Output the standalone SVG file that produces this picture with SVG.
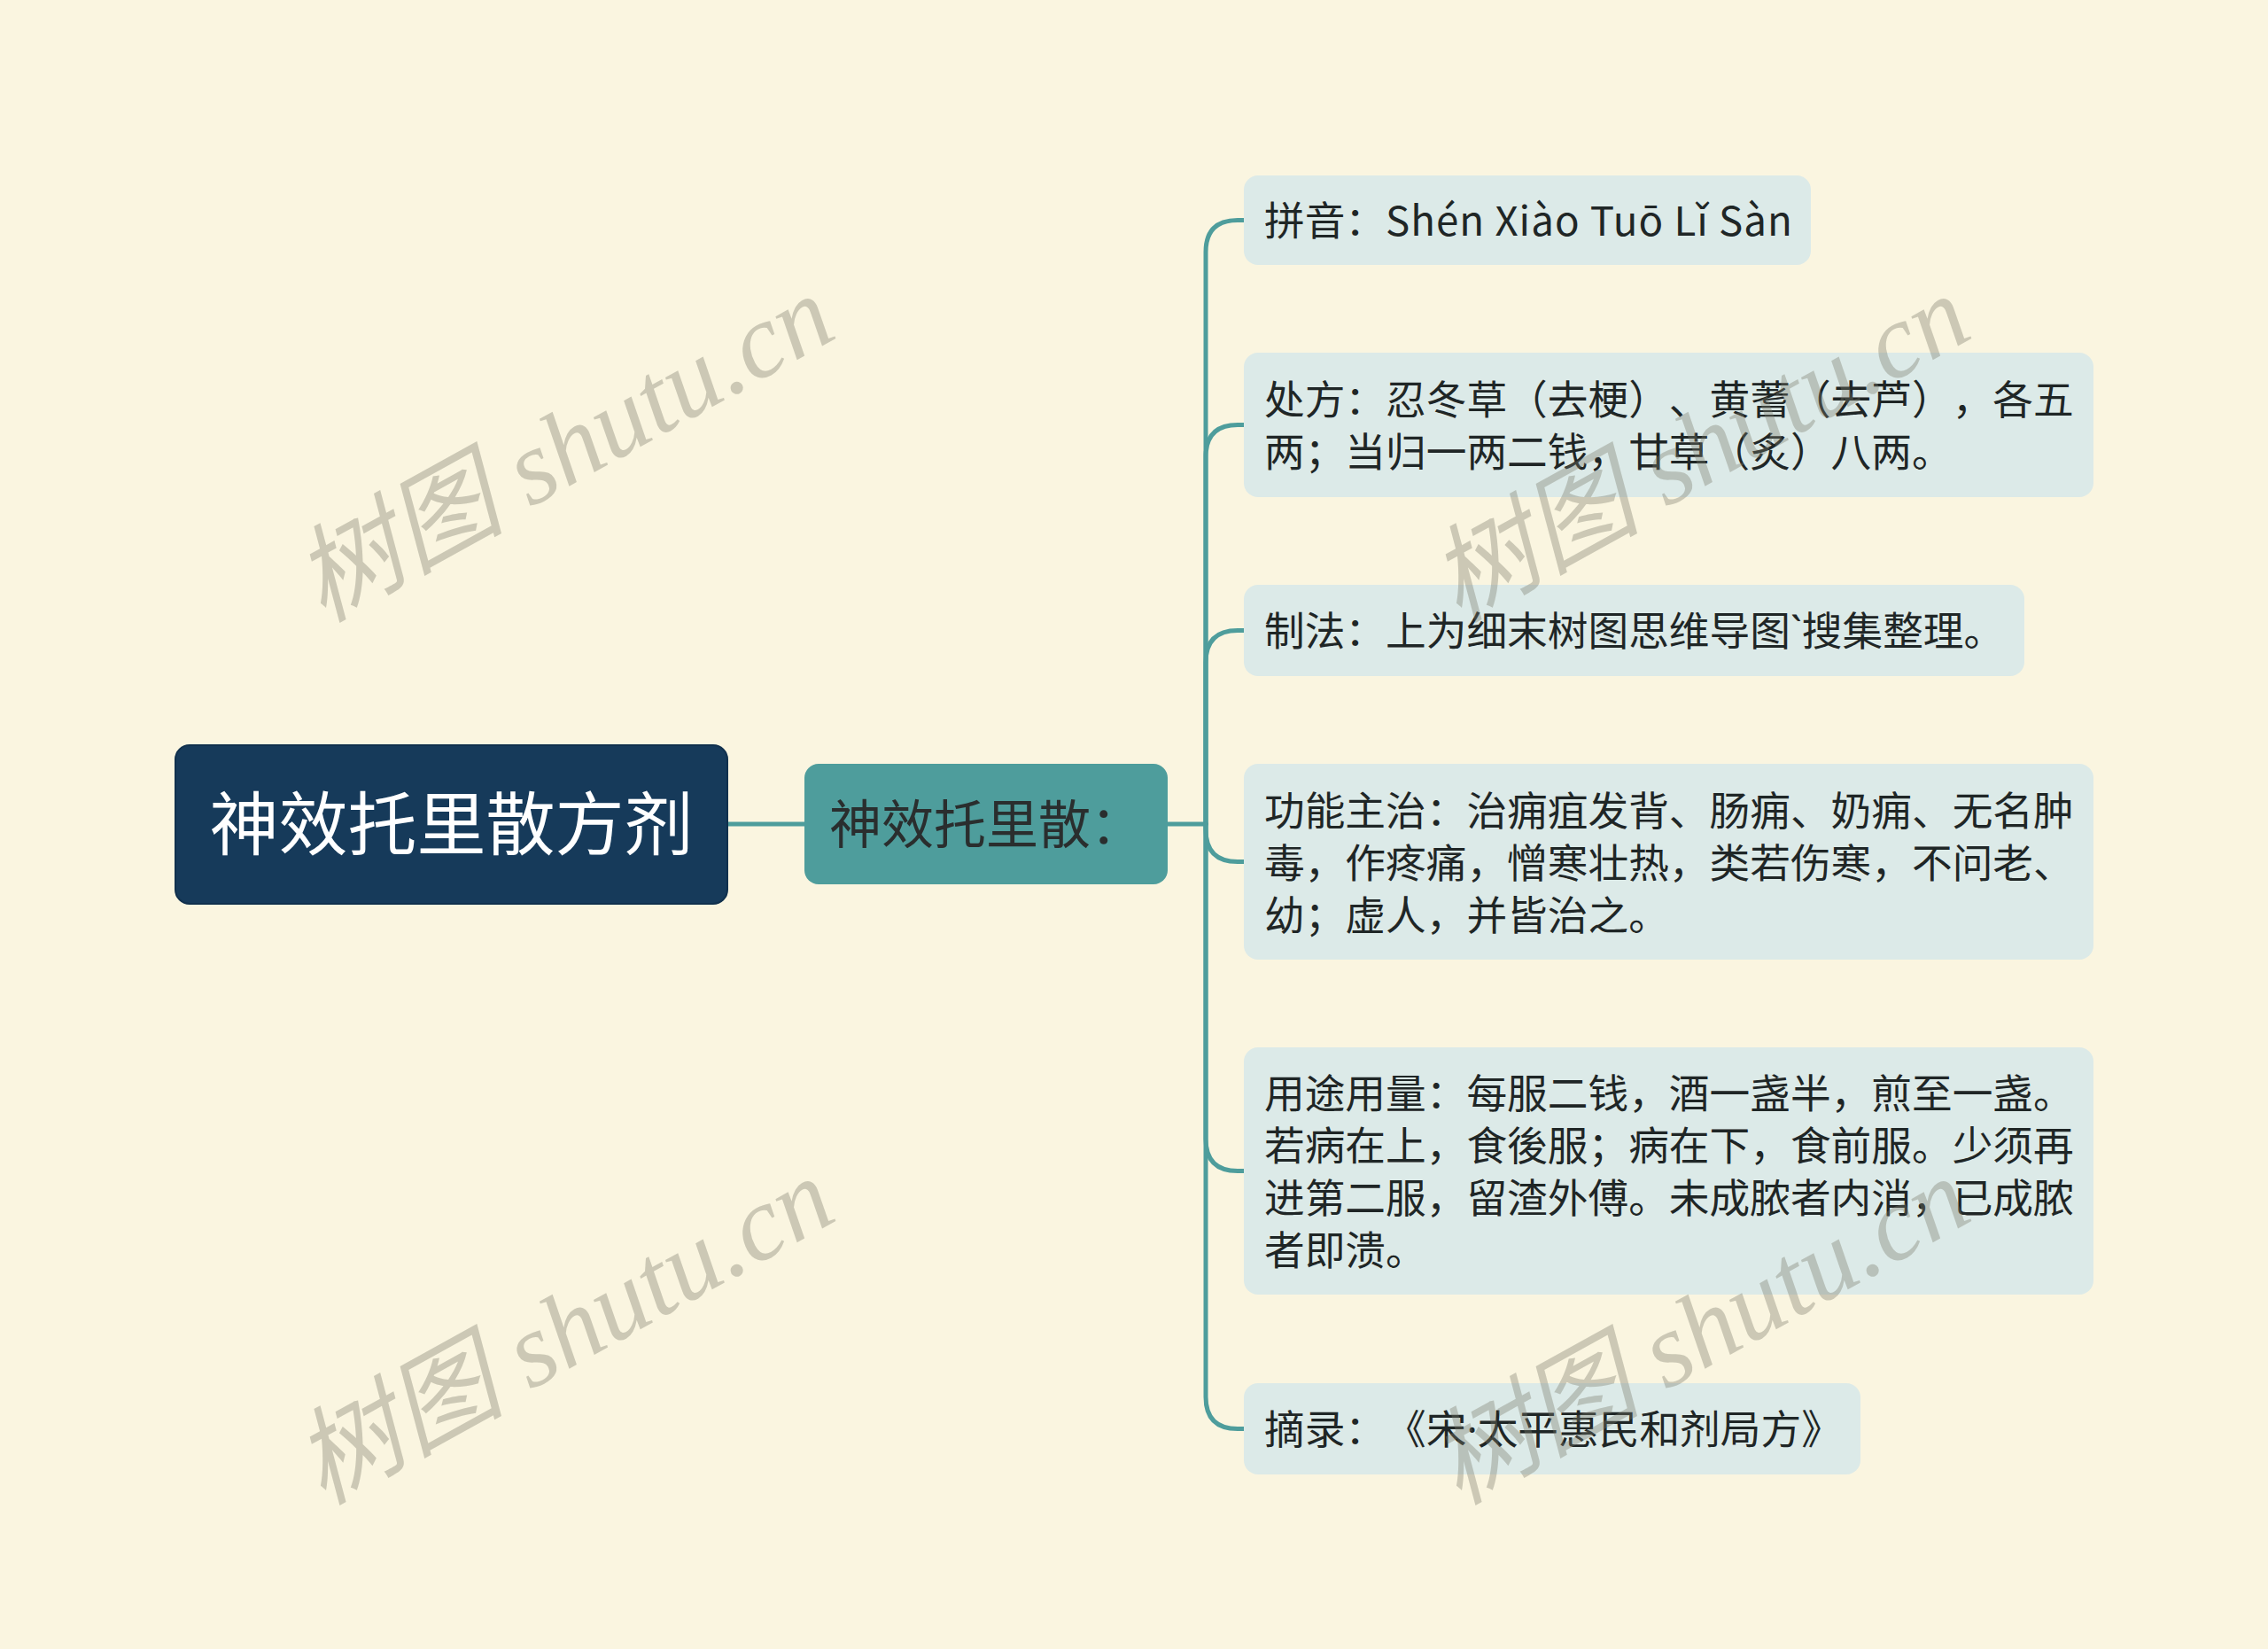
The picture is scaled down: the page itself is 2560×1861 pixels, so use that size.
<svg xmlns="http://www.w3.org/2000/svg" width="2560" height="1861" viewBox="0 0 2560 1861">
<style>
.bg{fill:#FAF5E0}
.conn{fill:none;stroke:#4E9D9C;stroke-width:5;stroke-linecap:round}
.root{fill:#163A5A;stroke:#10304D;stroke-width:2}
.child{fill:#4E9D9C}
.leaf{fill:#DCEAE8}
.t{font-family:"Noto Sans CJK SC","Noto Sans",sans-serif;text-spacing-trim:space-all;font-feature-settings:"chws" 0,"halt" 0}
.lat{font-family:"Noto Sans",sans-serif}
.rt{font-size:78px;fill:#FFFFFF}
.ct{font-size:59px;fill:#2A2E2E}
.lt{font-size:45.7px;fill:#1F2626}
.wm{font-family:"Liberation Serif","Noto Sans CJK SC",serif;font-style:italic;font-size:119px;fill:#7A7A6A;fill-opacity:0.36}
</style>
<rect class="bg" x="0" y="0" width="2560" height="1861"/>
<g id="connectors">
<path class="conn" d="M821 930 H908"/>
<path class="conn" d="M1318 930 H1361"/>
<path class="conn" d="M1361 930 V284.5 Q1361 248.5 1397 248.5 H1406"/>
<path class="conn" d="M1361 930 V515.5 Q1361 479.5 1397 479.5 H1406"/>
<path class="conn" d="M1361 930 V747.5 Q1361 711.5 1397 711.5 H1406"/>
<path class="conn" d="M1361 930 V936.5 Q1361 972.5 1397 972.5 H1406"/>
<path class="conn" d="M1361 930 V1285.5 Q1361 1321.5 1397 1321.5 H1406"/>
<path class="conn" d="M1361 930 V1576.5 Q1361 1612.5 1397 1612.5 H1406"/>
</g>
<g id="root">
<rect class="root" x="198" y="841" width="623" height="179" rx="16"/>
<text class="t rt" x="509.5" y="959" text-anchor="middle">神效托里散方剂</text>
</g>
<g id="child">
<rect class="child" x="908" y="862" width="410" height="136" rx="16"/>
<text class="t ct" x="936" y="952">神效托里散：</text>
</g>
<g id="leaf1">
<rect class="leaf" x="1404" y="198" width="640" height="101" rx="16"/>
<text class="t lt" x="1427" y="266">拼音：<tspan letter-spacing="1">Shén Xiào Tuō Lǐ Sàn</tspan></text>
</g>
<g id="leaf2">
<rect class="leaf" x="1404" y="398" width="959" height="163" rx="16"/>
<text class="t lt" x="1427" y="468">处方：忍冬草（去梗）、黄蓍（去芦），各五</text>
<text class="t lt" x="1427" y="527">两；当归一两二钱，甘草（炙）八两。</text>
</g>
<g id="leaf3">
<rect class="leaf" x="1404" y="660" width="881" height="103" rx="16"/>
<text class="t lt" x="1427" y="729">制法：上为细末树图思维导图<tspan class="lat">`</tspan>搜集整理。</text>
</g>
<g id="leaf4">
<rect class="leaf" x="1404" y="862" width="959" height="221" rx="16"/>
<text class="t lt" x="1427" y="932">功能主治：治痈疽发背、肠痈、奶痈、无名肿</text>
<text class="t lt" x="1427" y="991">毒，作疼痛，憎寒壮热，类若伤寒，不问老、</text>
<text class="t lt" x="1427" y="1050">幼；虚人，并皆治之。</text>
</g>
<g id="leaf5">
<rect class="leaf" x="1404" y="1182" width="959" height="279" rx="16"/>
<text class="t lt" x="1427" y="1251">用途用量：每服二钱，酒一盏半，煎至一盏。</text>
<text class="t lt" x="1427" y="1310">若病在上，食後服；病在下，食前服。少须再</text>
<text class="t lt" x="1427" y="1369">进第二服，留渣外傅。未成脓者内消，已成脓</text>
<text class="t lt" x="1427" y="1428">者即溃。</text>
</g>
<g id="leaf6">
<rect class="leaf" x="1404" y="1561" width="696" height="103" rx="16"/>
<text class="t lt" x="1427" y="1630">摘录：《宋<tspan class="lat">·</tspan>太平惠民和剂局方》</text>
</g>
<g id="watermarks">
<text class="wm" transform="translate(364 703) rotate(-29)">树图 shutu.cn</text>
<text class="wm" transform="translate(364 1699) rotate(-29)">树图 shutu.cn</text>
<text class="wm" transform="translate(1646 703) rotate(-29)">树图 shutu.cn</text>
<text class="wm" transform="translate(1646 1699) rotate(-29)">树图 shutu.cn</text>
</g>
</svg>
